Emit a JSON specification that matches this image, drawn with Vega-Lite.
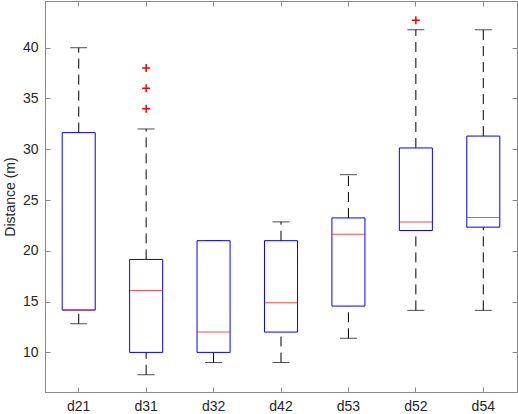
{
  "$schema": "https://vega.github.io/schema/vega-lite/v6.json",
  "width": 472,
  "height": 391,
  "autosize": "none",
  "padding": {"left": 45, "top": 1, "right": 1, "bottom": 22},
  "background": "#ffffff",
  "view": {"stroke": "#888888", "strokeWidth": 1},
  "config": {
    "font": "Liberation Sans",
    "axis": {
      "labelFont": "Liberation Sans",
      "titleFont": "Liberation Sans",
      "labelFontSize": 14,
      "titleFontSize": 14,
      "labelColor": "#262626",
      "titleColor": "#262626",
      "titleFontWeight": "normal",
      "domainColor": "#888888",
      "tickColor": "#888888",
      "tickSize": -5,
      "grid": false
    }
  },
  "datasets": {
    "boxes": [
      {"name": "d21", "lower": 12.82, "q1": 14.17, "median": 14.17, "q3": 31.64, "upper": 40.0},
      {"name": "d31", "lower": 7.8, "q1": 10.0, "median": 16.1, "q3": 19.15, "upper": 32.0},
      {"name": "d32", "lower": 9.0, "q1": 10.0, "median": 12.0, "q3": 21.0, "upper": 21.0},
      {"name": "d42", "lower": 9.0, "q1": 12.0, "median": 14.9, "q3": 21.0, "upper": 22.85},
      {"name": "d53", "lower": 11.39, "q1": 14.56, "median": 21.64, "q3": 23.24, "upper": 27.5},
      {"name": "d52", "lower": 14.14, "q1": 22.0, "median": 22.85, "q3": 30.13, "upper": 41.77},
      {"name": "d54", "lower": 14.14, "q1": 22.33, "median": 23.28, "q3": 31.3, "upper": 41.77}
    ],
    "outliers": [
      {"name": "d31", "value": 34.0},
      {"name": "d31", "value": 36.0},
      {"name": "d31", "value": 38.0},
      {"name": "d52", "value": 42.7}
    ]
  },
  "resolve": {"axis": {"x": "independent", "y": "independent"}},
  "layer": [
    {
      "data": {"name": "boxes"},
      "mark": {"type": "rule", "color": "#000000", "strokeDash": [10, 6], "strokeWidth": 1},
      "encoding": {
        "x": {
          "field": "name", "type": "nominal", "sort": null,
          "scale": {"type": "band", "paddingInner": 0, "paddingOuter": 0},
          "axis": {"orient": "bottom", "title": null, "labelAngle": 0, "labelPadding": 12}
        },
        "y": {
          "field": "q3", "type": "quantitative",
          "scale": {"domain": [6.1, 44.6], "nice": false, "zero": false},
          "axis": {"orient": "left", "title": "Distance (m)", "values": [10, 15, 20, 25, 30, 35, 40], "labelPadding": 12, "titlePadding": 5}
        },
        "y2": {"field": "upper"}
      }
    },
    {
      "data": {"name": "boxes"},
      "mark": {"type": "rule", "color": "#000000", "strokeDash": [10, 6], "strokeWidth": 1},
      "encoding": {
        "x": {
          "field": "name", "type": "nominal", "sort": null,
          "axis": {"orient": "top", "title": null, "labels": false}
        },
        "y": {
          "field": "lower", "type": "quantitative",
          "axis": {"orient": "right", "title": null, "labels": false, "values": [10, 15, 20, 25, 30, 35, 40]}
        },
        "y2": {"field": "q1"}
      }
    },
    {
      "data": {"name": "boxes"},
      "mark": {"type": "tick", "color": "#000000", "size": 17, "thickness": 1},
      "encoding": {
        "x": {"field": "name", "type": "nominal", "sort": null, "axis": null},
        "y": {"field": "upper", "type": "quantitative", "axis": null}
      }
    },
    {
      "data": {"name": "boxes"},
      "mark": {"type": "tick", "color": "#000000", "size": 17, "thickness": 1},
      "encoding": {
        "x": {"field": "name", "type": "nominal", "sort": null, "axis": null},
        "y": {"field": "lower", "type": "quantitative", "axis": null}
      }
    },
    {
      "data": {"name": "boxes"},
      "mark": {"type": "bar", "fill": "#ffffff", "stroke": "#0000ff", "strokeWidth": 1, "width": {"band": 0.49}},
      "encoding": {
        "x": {"field": "name", "type": "nominal", "sort": null, "axis": null},
        "y": {"field": "q1", "type": "quantitative", "axis": null},
        "y2": {"field": "q3"}
      }
    },
    {
      "data": {"name": "boxes"},
      "mark": {"type": "tick", "color": "#ff0000", "size": 33, "thickness": 1},
      "encoding": {
        "x": {"field": "name", "type": "nominal", "sort": null, "axis": null},
        "y": {"field": "median", "type": "quantitative", "axis": null}
      }
    },
    {
      "data": {"name": "outliers"},
      "mark": {"type": "point", "shape": "M-1,0L1,0M0,-1L0,1", "stroke": "#ff0000", "strokeWidth": 1.5, "filled": false, "size": 64, "opacity": 1},
      "encoding": {
        "x": {"field": "name", "type": "nominal", "sort": null, "axis": null},
        "y": {"field": "value", "type": "quantitative", "axis": null}
      }
    }
  ]
}
